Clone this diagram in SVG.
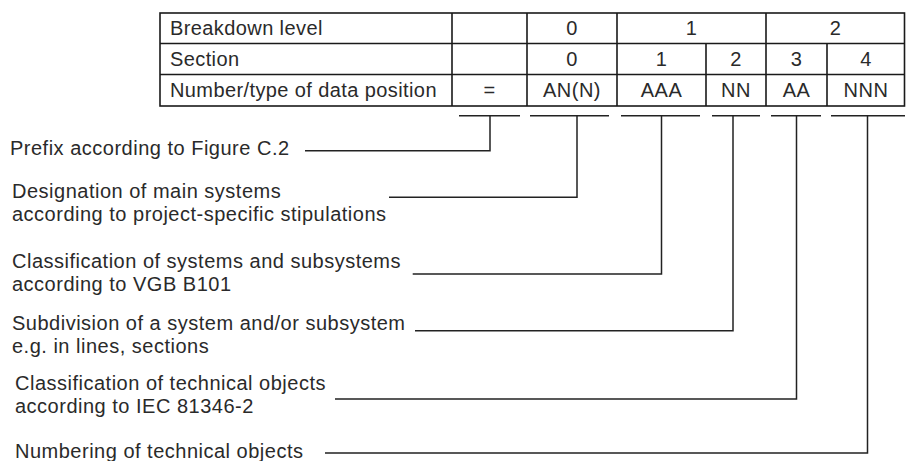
<svg xmlns="http://www.w3.org/2000/svg" width="906" height="461" viewBox="0 0 906 461">
<style>
text{font-family:"Liberation Sans",Arial,sans-serif;font-size:20px;fill:#2a2a2a;letter-spacing:0.5px}
.t{letter-spacing:0.4px}
.c{text-anchor:middle}
.tl{stroke:#1a1a1a;stroke-width:1.6;fill:none}
.ln{stroke:#222;stroke-width:1.5;fill:none}
</style>
<rect width="906" height="461" fill="#fff"/>
<g id="table">
<rect class="tl" x="160" y="13" width="744.5" height="93"/>
<path class="tl" d="M160 43.5H904.5M160 74.5H904.5M452 13V106M527 13V106M617 13V106M766 13V106M706 43.5V106M827 43.5V106"/>
<text class="t" x="170" y="35">Breakdown level</text>
<text class="t" x="170" y="66">Section</text>
<text class="t" x="170" y="97">Number/type of data position</text>
<text class="c" x="572" y="35">0</text>
<text class="c" x="691.5" y="35">1</text>
<text class="c" x="835.5" y="35">2</text>
<text class="c" x="572" y="66">0</text>
<text class="c" x="661.5" y="66">1</text>
<text class="c" x="736" y="66">2</text>
<text class="c" x="796.5" y="66">3</text>
<text class="c" x="866" y="66">4</text>
<text class="c" x="489.5" y="97">=</text>
<text class="c" x="572" y="97">AN(N)</text>
<text class="c" x="661.5" y="97">AAA</text>
<text class="c" x="736" y="97">NN</text>
<text class="c" x="796.5" y="97">AA</text>
<text class="c" x="866" y="97">NNN</text>
</g>
<g id="underlines">
<path class="ln" d="M459 115.7H520M530 115.7H609M621 115.7H700M712 115.7H760M771 115.7H821M831 115.7H905"/>
</g>
<g id="connectors">
<path class="ln" d="M305 150.7H490V115.7"/>
<path class="ln" d="M389 197.3H577V115.7"/>
<path class="ln" d="M412.7 274H661.5V115.7"/>
<path class="ln" d="M415 330.7H733V115.7"/>
<path class="ln" d="M335 399H796.5V115.7"/>
<path class="ln" d="M325 453H867.5V115.7"/>
</g>
<g id="label-prefix"><text x="10" y="155">Prefix according to Figure C.2</text></g>
<g id="label-designation"><text x="12" y="198">Designation of main systems</text><text x="12" y="221">according to project-specific stipulations</text></g>
<g id="label-classification-systems"><text x="12" y="268">Classification of systems and subsystems</text><text x="12" y="291">according to VGB B101</text></g>
<g id="label-subdivision"><text x="12" y="330">Subdivision of a system and/or subsystem</text><text x="12" y="353">e.g. in lines, sections</text></g>
<g id="label-classification-objects"><text x="15" y="390">Classification of technical objects</text><text x="15" y="413">according to IEC 81346-2</text></g>
<g id="label-numbering"><text x="15" y="458">Numbering of technical objects</text></g>
</svg>
